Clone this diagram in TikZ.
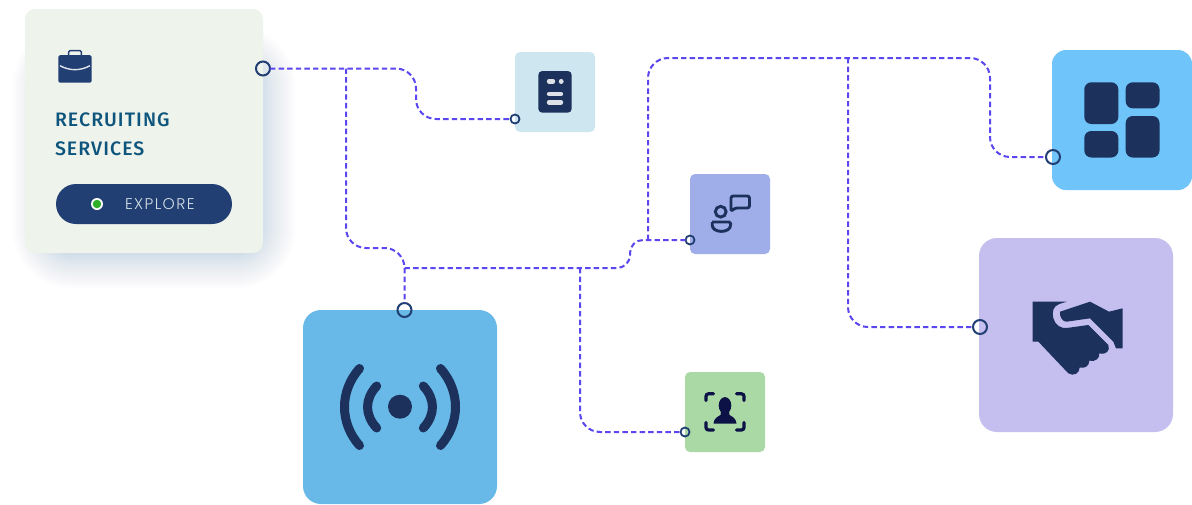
\documentclass[tikz,border=0pt]{standalone}
\usepackage{fontspec}
\newfontfamily\titlefont[LetterSpace=5.5]{Fira Sans Medium}
\newfontfamily\btnfont[LetterSpace=9]{Poppins Light}
\usetikzlibrary{calc}
\definecolor{dashc}{HTML}{5B47F0}
\definecolor{navy}{HTML}{1C315C}
\definecolor{btn}{HTML}{213F73}
\definecolor{ring}{HTML}{213F73}
\definecolor{shadowc}{HTML}{5A78B4}
\definecolor{cardc}{RGB}{238,243,236}
\definecolor{docc}{RGB}{205,230,240}
\definecolor{chatc}{RGB}{159,174,232}
\definecolor{facec}{RGB}{171,217,166}
\definecolor{gridc}{RGB}{111,196,249}
\definecolor{handc}{RGB}{197,191,240}
\definecolor{signalc}{RGB}{104,185,232}
\definecolor{titlec}{RGB}{13,85,124}
\definecolor{btntextc}{RGB}{213,224,230}
\definecolor{greenc}{RGB}{47,174,42}
\definecolor{facei}{RGB}{12,18,70}
\tikzset{
  x=1pt,y=-1pt,
  tile/.style={inner sep=0pt,outer sep=0pt,draw=none},
  port/.style={circle,draw=ring,line width=2pt,fill=none,inner sep=0pt,outer sep=0pt,minimum size=14pt},
  portsmall/.style={port,minimum size=9pt,line width=1.8pt},
  link/.style={draw=dashc,line width=2pt,dash pattern=on 5.4pt off 3.2pt,rounded corners=20pt},
  iconline/.style={draw=navy,line width=2.9pt,fill=none},
}
\begin{document}
\begin{tikzpicture}
\path[use as bounding box,fill=white] (0,0) rectangle (1192,504);
% card shadow
\foreach \i in {1,...,30}{
  \pgfmathsetmacro{\e}{45*(\i/30)^2}
  \pgfmathsetmacro{\r}{14+\e}
  \fill[shadowc,opacity=0.016,rounded corners=\r pt]
    ({58-\e},{72-\e}) rectangle ({250+\e},{243+\e});
}
% tiles
\node[tile,minimum width=238pt,minimum height=244pt,rounded corners=10pt,fill=cardc] (card) at (144,131) {};
\node[tile,minimum size=80pt,rounded corners=5pt,fill=docc] (doc) at (555,92) {};
\node[tile,minimum size=80pt,rounded corners=5pt,fill=chatc] (chat) at (730,214) {};
\node[tile,minimum size=80pt,rounded corners=5pt,fill=facec] (face) at (725,412) {};
\node[tile,minimum size=140pt,rounded corners=14pt,fill=gridc] (grid) at (1122,120) {};
\node[tile,minimum size=194pt,rounded corners=18pt,fill=handc] (hand) at (1076,335) {};
\node[tile,minimum size=194pt,rounded corners=18pt,fill=signalc] (signal) at (400,407) {};
% ports
\node[port] (pcard) at (263,68.5) {};
\node[portsmall] (pdoc) at (515,119) {};
\node[portsmall] (pchat) at (690,240) {};
\node[portsmall] (pface) at (685,432) {};
\node[port] (pgrid) at (1053,157) {};
\node[port] (phand) at (980,327) {};
\node[port] (psignal) at (404.5,310) {};
% junctions
\coordinate (j1) at (346,68.5);
\coordinate (j2) at (404.5,268);
\coordinate (j3) at (580,268);
\coordinate (j4) at (648,240);
\coordinate (j5) at (848,58);
% connectors
\path[link] (pcard) -- (416,68.5) -- (416,119) -- (pdoc);
\path[link] (j1) -- (346,248) -- (404.5,248) -- (psignal);
\path[link,rounded corners=13pt] (j2) -- (630,268) -- (630,240) -- (pchat);
\path[link] (j3) -- (580,432) -- (pface);
\path[link] (j4) -- (648,58) -- (990,58) -- (990,157) -- (pgrid);
\path[link] (j5) -- (848,327) -- (phand);
% briefcase
\fill[btn,rounded corners=1.5pt] (58.3,55.2) rectangle (91.7,82.7);
\draw[btn,line width=1.4pt,rounded corners=1.5pt] (68.6,55) -- (68.6,50.6) -- (81.4,50.6) -- (81.4,55);
\draw[white!85!btn,line width=1.4pt] (60,65.7) .. controls (70,71) and (80,71) .. (90,65.7);
% card text
\node[tile,anchor=base west,font=\titlefont\fontsize{19.5}{20}\selectfont,text=titlec] (t1) at (55,126) {RECRUITING};
\node[tile,anchor=base west,font=\titlefont\fontsize{19.5}{20}\selectfont,text=titlec] (t2) at (55,155) {SERVICES};
% button
\node[tile,minimum width=176pt,minimum height=40pt,rounded corners=20pt,fill=btn] (btnbox) at (144,204) {};
\node[circle,tile,minimum size=12pt,fill=white] (dotw) at (97,204) {};
\node[circle,tile,minimum size=8.5pt,fill=greenc] (dotg) at (97,204) {};
\node[tile,anchor=base west,font=\btnfont\fontsize{15.5}{16}\selectfont,text=btntextc] (btntext) at (125,209) {EXPLORE};
% doc icon
\fill[navy,rounded corners=4pt] (538.3,71) rectangle (571.7,112.7);
\draw[white!85!navy,line width=4.4pt,line cap=round] (549,81.3) -- (553,81.3);
\draw[white!85!navy,line width=4.4pt,line cap=round] (561,81.3) -- (561.4,81.3);
\draw[white!85!navy,line width=4.4pt,line cap=round] (549,94) -- (561,94);
\draw[white!85!navy,line width=4.4pt,line cap=round] (549,102.3) -- (561,102.3);
% chat icon
\draw[iconline,rounded corners=2.2pt,line join=round] (731,211.5) -- (731,196) -- (749.5,196) -- (749.5,208) -- (735,208) -- cycle;
\draw[iconline] (720.7,211.7) circle (5.4pt);
\draw[iconline,rounded corners=1.5pt] (712.2,222) -- (730.6,222) -- (730.6,225);
\draw[iconline] (712.2,222) -- (712.2,225) .. controls (712.2,233.5) and (730.6,233.5) .. (730.6,225);
% face icon
\begin{scope}[draw=facei,line width=3.2pt,line cap=round,rounded corners=2.5pt]
\draw (706,400.5) -- (706,393.8) -- (713.5,393.8);
\draw (736.5,393.8) -- (744,393.8) -- (744,400.5);
\draw (706,422.5) -- (706,430) -- (713.5,430);
\draw (736.5,430) -- (744,430) -- (744,422.5);
\end{scope}
\fill[facei] (725,405.5) ellipse (6.3pt and 8.4pt);
\fill[facei] (721,411) -- (729,411) -- (729.5,415) .. controls (733,417) and (736,418.5) .. (736.5,423.5) -- (713.5,423.5) .. controls (714,418.5) and (717,417) .. (720.5,415) -- cycle;
% grid icon
\fill[navy,rounded corners=7pt] (1084.3,82.3) rectangle (1118.3,124);
\fill[navy,rounded corners=7pt] (1125.7,82.3) rectangle (1159.5,108.3);
\fill[navy,rounded corners=7pt] (1084.3,131) rectangle (1118.3,157.5);
\fill[navy,rounded corners=7pt] (1125.7,116) rectangle (1159.5,157.5);
% handshake icon
\begin{scope}[shift={(970,270)},x=0.3333pt,y=-0.3333pt]
\fill[navy] (188,95) -- (290,95) -- (268,102) .. controls (250,108) and (245,125) .. (250,145)
  .. controls (256,165) and (272,176) .. (290,174) -- (355,165) -- (415,225)
  .. controls (421,240) and (410,256) .. (388,250) .. controls (390,265) and (375,277) .. (358,272)
  .. controls (358,288) and (345,296) .. (329,293) .. controls (329,310) and (310,320) .. (295,310)
  -- (205,215) -- (188,215) -- cycle;
\fill[navy] (270,125) -- (360,95) -- (417,125) -- (458,115) -- (458,235) -- (438,235) -- (430,215) -- (360,145) -- (290,155)
  .. controls (278,157) and (268,140) .. (270,125) -- cycle;
\end{scope}
% signal icon
\fill[navy] (400,406.7) circle (12pt);
\begin{scope}[draw=navy,line width=9pt,line cap=round]
\draw (376.7,386) .. controls (364.5,399) and (364.5,415) .. (376.7,428);
\draw (423.3,386) .. controls (435.5,399) and (435.5,415) .. (423.3,428);
\draw (359.5,368.5) .. controls (339.5,391) and (339.5,423) .. (359.5,445.5);
\draw (440.5,368.5) .. controls (460.5,391) and (460.5,423) .. (440.5,445.5);
\end{scope}
\end{tikzpicture}
\end{document}
